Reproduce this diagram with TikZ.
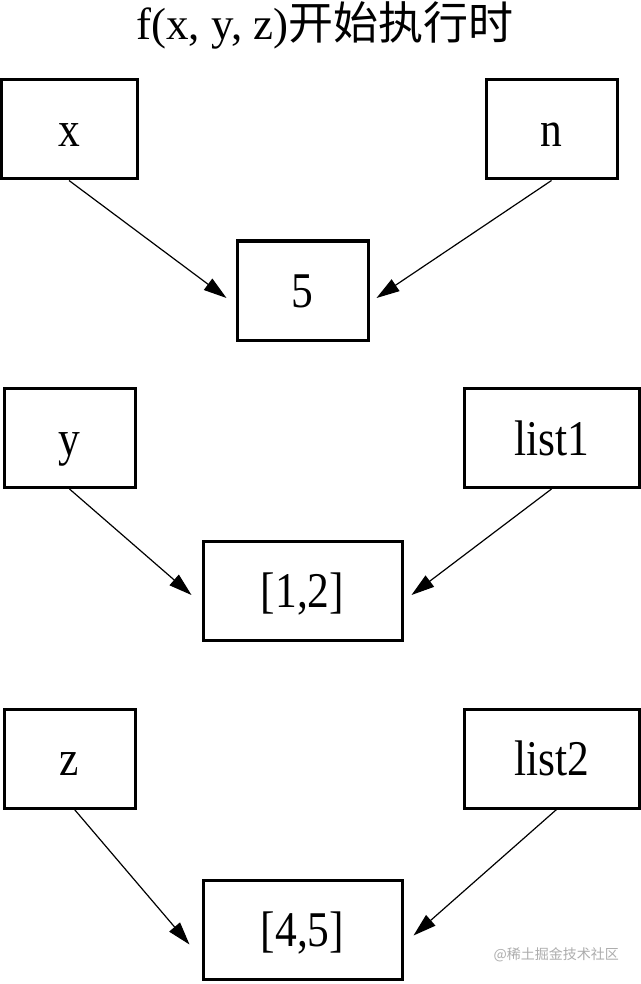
\documentclass[tikz,border=0pt]{standalone}
\usepackage{fontspec}
\setmainfont{Liberation Serif}
\newfontfamily\cjk{Noto Sans CJK SC}
\usetikzlibrary{arrows.meta,calc}
\begin{document}
\begin{tikzpicture}[x=1pt,y=-1pt,
  vbox/.style={draw,line width=3pt,inner sep=0pt,minimum height=99pt,
    text height=36pt,text depth=2pt,font=\fontsize{50}{54}\selectfont},
  conn/.style={line width=1.2pt,-{Triangle[length=23pt,width=14pt]}}]
\useasboundingbox[fill=white] (0,0) rectangle (640,984);
% title
\node[anchor=base,inner sep=0pt,font=\fontsize{45}{49}\selectfont] (title) at (325,40)
  {f(x, y, z){\cjk 开始执行时}};
% row 1
\node[vbox,minimum width=136pt] (x) at (69,129.5) {\scalebox{0.87}[1]{x}};
\node[vbox,minimum width=131pt] (n) at (551.5,129.5) {\scalebox{0.87}[1]{n}};
\node[vbox,minimum width=131pt] (five) at (302.5,290.5) {\scalebox{0.87}[1]{5}};
% row 2
\node[vbox,minimum width=131pt] (y) at (69.5,438) {\scalebox{0.87}[1]{y}};
\node[vbox,minimum width=175pt] (list1) at (551.5,438) {\scalebox{0.87}[1]{list1}};
\node[vbox,minimum width=199pt] (l12) at (302.5,590.5) {\scalebox{0.87}[1]{[1,2]}};
% row 3
\node[vbox,minimum width=131pt] (z) at (69.5,758.5) {\scalebox{0.87}[1]{z}};
\node[vbox,minimum width=175pt] (list2) at (551.5,758.5) {\scalebox{0.87}[1]{list2}};
\node[vbox,minimum width=199pt] (l45) at (302.5,929.5) {\scalebox{0.87}[1]{[4,5]}};
% connectors
\draw[conn] (x.south) -- ($(five.west)+(-9,7.5)$);
\draw[conn] (n.south) -- ($(five.east)+(7,7.5)$);
\draw[conn] (y.south) -- ($(l12.west)+(-10,4.5)$);
\draw[conn] (list1.south) -- ($(l12.east)+(8,4.5)$);
\draw[conn] ($(z.south)+(5,0)$) -- ($(l45.west)+(-12,15)$);
\draw[conn] ($(list2.south)+(5,0)$) -- ($(l45.east)+(10,6)$);
% watermark
\node[anchor=east,inner sep=0pt,text=black!32,font=\cjk\fontsize{14}{16}\selectfont] (wm) at (619,955) {@稀土掘金技术社区};
\end{tikzpicture}
\end{document}
